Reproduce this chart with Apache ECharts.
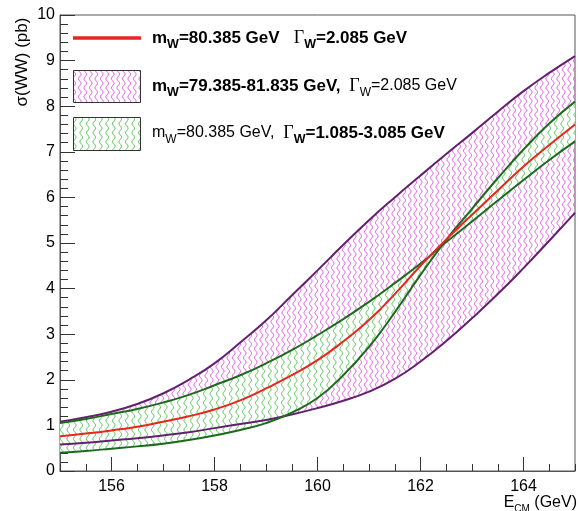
<!DOCTYPE html>
<html><head><meta charset="utf-8">
<script src="https://cdn.jsdelivr.net/npm/echarts@6/dist/echarts.min.js"></script>
<style>html,body{margin:0;padding:0;background:#fff}#c{width:578px;height:511px}</style>
</head><body><div id="c"></div>
<script>
// E_CM (GeV)
const energy = [155,155.5,156,156.5,157,157.5,158,158.5,159,159.5,160,160.5,161,161.5,162,162.5,163,163.5,164,164.5,165];
// mW=80.385, ΓW=2.085 (red)
const sigmaNominal = [0.76,0.82,0.89,0.97,1.08,1.20,1.35,1.55,1.81,2.10,2.43,2.84,3.31,3.88,4.50,5.08,5.62,6.15,6.68,7.15,7.60];
// mass band edges (purple)
const sigmaMassLow = [1.08,1.18,1.30,1.47,1.70,2.00,2.36,2.82,3.30,3.85,4.40,4.96,5.50,6.00,6.48,6.95,7.41,7.88,8.33,8.73,9.10];
const sigmaMassHigh = [0.58,0.62,0.67,0.72,0.78,0.85,0.94,1.03,1.12,1.24,1.38,1.54,1.74,2.02,2.40,2.85,3.35,3.88,4.45,5.05,5.66];
// width band edges (green)
const sigmaWidthHigh = [1.05,1.14,1.25,1.36,1.50,1.67,1.88,2.10,2.36,2.65,2.98,3.33,3.71,4.12,4.55,5.02,5.47,5.93,6.38,6.82,7.23];
const sigmaWidthLow = [0.40,0.44,0.49,0.54,0.60,0.68,0.78,0.90,1.05,1.28,1.60,2.10,2.72,3.48,4.30,5.07,5.75,6.42,7.05,7.62,8.10];
const xMajorTicks = [156,158,160,162,164];

function wavePattern(color, w, cols, h, bg) {
  const c = document.createElement('canvas');
  c.width = w; c.height = h;
  const ctx = c.getContext('2d');
  if (bg) { ctx.fillStyle = bg; ctx.fillRect(0, 0, w, h); }
  ctx.strokeStyle = color; ctx.lineWidth = 1;
  for (let k = 0; k < cols; k++) {
    const cx = (k + 0.5) * w / cols;
    ctx.beginPath();
    for (let y = 0; y <= h; y += 0.5) {
      const x = cx + 1.3 * Math.sin(2 * Math.PI * y / h);
      if (y === 0) ctx.moveTo(x, y); else ctx.lineTo(x, y);
    }
    ctx.stroke();
  }
  return c;
}
const magentaPat = { image: wavePattern('#e04ce0', 11, 2, 9, null), repeat: 'repeat' };
const greenPat = { image: wavePattern('#4cc04c', 13, 2, 9, '#ffffff'), repeat: 'repeat' };

const pairs = (ys) => energy.map((e, i) => [e, ys[i]]);

function bandSeries(upper, lower, pattern, z) {
  return {
    type: 'custom', coordinateSystem: 'cartesian2d', xAxisIndex: 0, yAxisIndex: 0,
    silent: true, animation: false, clip: true, z: z,
    data: energy.map((e, i) => [e, upper[i], lower[i]]),
    encode: { x: 0, y: [1, 2] },
    renderItem: function (params, api) {
      if (params.dataIndex !== 0) return null;
      const pts = [];
      for (let i = 0; i < energy.length; i++) pts.push(api.coord([energy[i], upper[i]]));
      for (let i = energy.length - 1; i >= 0; i--) pts.push(api.coord([energy[i], lower[i]]));
      return { type: 'polygon', shape: { points: pts }, style: { fill: pattern, stroke: null } };
    }
  };
}

const chart = echarts.init(document.getElementById('c'), null, { renderer: 'canvas' });
const axisCol = '#333';
const base = { type: 'line', smooth: true, symbol: 'none', silent: true, animation: false, xAxisIndex: 0, yAxisIndex: 0 };

function richStyles() {
  const f = 'Liberation Sans';
  return {
    b: { fontSize: 17, fontWeight: 'bold', fontFamily: f, fill: '#000', lineHeight: 26, verticalAlign: 'middle' },
    n: { fontSize: 16, fontFamily: f, fill: '#000', lineHeight: 26, verticalAlign: 'middle' },
    bs: { fontSize: 12.5, fontWeight: 'bold', fontFamily: f, fill: '#000', lineHeight: 12, verticalAlign: 'bottom' },
    ns: { fontSize: 12, fontFamily: f, fill: '#000', lineHeight: 12, verticalAlign: 'bottom' },
    g: { fontSize: 18, fontFamily: 'Liberation Serif', fill: '#000', lineHeight: 26, verticalAlign: 'middle' }
  };
}

chart.setOption({
  animation: false,
  backgroundColor: '#fff',
  grid: { left: 60, right: 1, top: 15, bottom: 40, show: true, borderColor: '#555', borderWidth: 1 },
  xAxis: [
    { type: 'value', min: 155, max: 165, interval: 0.5, position: 'bottom',
      axisLine: { show: true, lineStyle: { color: '#555' } },
      axisTick: { show: true, inside: true, length: 7, lineStyle: { color: axisCol } },
      axisLabel: { color: '#000', fontSize: 16, fontFamily: 'Liberation Sans', margin: 8,
        formatter: v => (Math.abs(v % 2) < 1e-9 ? String(v) : '') },
      splitLine: { show: false } },
    { type: 'value', min: 155, max: 165, position: 'bottom',
      axisLine: { show: false },
      axisTick: { show: true, inside: true, length: 14, customValues: xMajorTicks, lineStyle: { color: axisCol } },
      axisLabel: { show: false }, splitLine: { show: false } }
  ],
  yAxis: { type: 'value', min: 0, max: 10, interval: 1,
    axisLine: { show: true, lineStyle: { color: '#555' } },
    axisTick: { show: true, inside: true, length: 15, lineStyle: { color: axisCol } },
    minorTick: { show: true, splitNumber: 5, length: 8, lineStyle: { color: axisCol } },
    axisLabel: { color: '#000', fontSize: 16, fontFamily: 'Liberation Sans', margin: 5 },
    splitLine: { show: false } },
  series: [
    bandSeries(sigmaMassLow, sigmaMassHigh, magentaPat, 1),
    bandSeries(sigmaWidthHigh, sigmaWidthLow, greenPat, 2),
    Object.assign({}, base, { name: 'mLow', data: pairs(sigmaMassLow), lineStyle: { color: '#64206e', width: 2 }, z: 5 }),
    Object.assign({}, base, { name: 'mHigh', data: pairs(sigmaMassHigh), lineStyle: { color: '#64206e', width: 2 }, z: 5 }),
    Object.assign({}, base, { name: 'gHigh', data: pairs(sigmaWidthHigh), lineStyle: { color: '#1c6a1c', width: 2 }, z: 6 }),
    Object.assign({}, base, { name: 'gLow', data: pairs(sigmaWidthLow), lineStyle: { color: '#1c6a1c', width: 2 }, z: 6 }),
    Object.assign({}, base, { name: 'nominal', data: pairs(sigmaNominal), lineStyle: { color: '#e8251e', width: 2 }, z: 7 })
  ],
  graphic: [
    { type: 'line', shape: { x1: 73, y1: 38, x2: 141, y2: 38 }, style: { stroke: '#e8251e', lineWidth: 3.5 }, z: 100 },
    { type: 'rect', shape: { x: 73.5, y: 70.5, width: 67, height: 32 }, style: { fill: magentaPat, stroke: '#333', lineWidth: 1 }, z: 100 },
    { type: 'rect', shape: { x: 73.5, y: 117.5, width: 67, height: 33 }, style: { fill: greenPat, stroke: '#333', lineWidth: 1 }, z: 100 },
    { type: 'text', x: 152, y: 38, z: 100, style: {
        text: '{b|m}{bs|W}{b|=80.385 GeV   }{g|Γ}{bs|W}{b|=2.085 GeV}', verticalAlign: 'middle',
        rich: richStyles() } },
    { type: 'text', x: 152, y: 86, z: 100, style: {
        text: '{b|m}{bs|W}{b|=79.385-81.835 GeV,}{n|  }{g|Γ}{ns|W}{n|=2.085 GeV}', verticalAlign: 'middle',
        rich: richStyles() } },
    { type: 'text', x: 152, y: 133, z: 100, style: {
        text: '{n|m}{ns|W}{n|=80.385 GeV,  }{g|Γ}{bs|W}{b|=1.085-3.085 GeV}', verticalAlign: 'middle',
        rich: richStyles() } },
    { type: 'text', x: 22, y: 62, rotation: Math.PI / 2, z: 100, style: {
        text: 'σ(WW) (pb)', fontSize: 17, fontFamily: 'Liberation Sans', fill: '#000', align: 'center', verticalAlign: 'middle' } },
    { type: 'text', x: 577, y: 503, z: 100, style: {
        text: '{a|E}{s|CM}{a| (GeV)}', align: 'right', verticalAlign: 'middle',
        rich: { a: { fontSize: 16, fontFamily: 'Liberation Sans', fill: '#000', lineHeight: 22, verticalAlign: 'middle' },
                s: { fontSize: 10, fontFamily: 'Liberation Sans', fill: '#000', lineHeight: 10, verticalAlign: 'bottom' } } } }
  ]
});
</script></body></html>
